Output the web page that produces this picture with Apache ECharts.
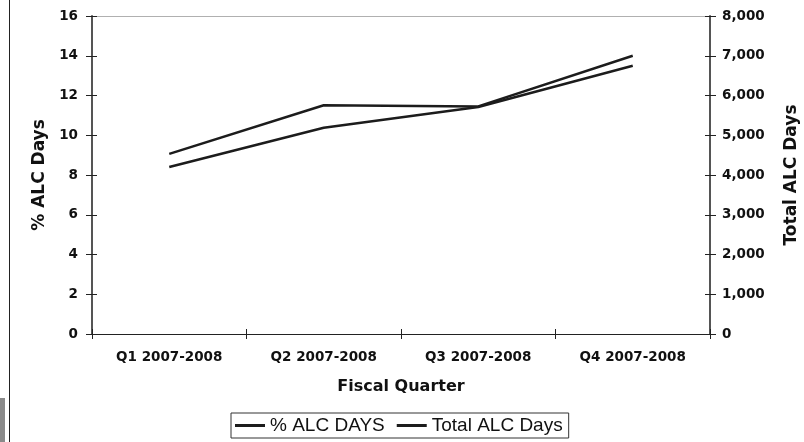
<!DOCTYPE html>
<html>
<head>
<meta charset="utf-8">
<script src="https://cdn.jsdelivr.net/npm/echarts@6/dist/echarts.min.js"></script>
<style>
  html, body { margin: 0; padding: 0; background: #fff; }
  #chart { width: 804px; height: 442px; }
</style>
</head>
<body>
<div id="chart"></div>
<script>
// Fiscal quarters and the two measures plotted against them
const quarters = ['Q1 2007-2008', 'Q2 2007-2008', 'Q3 2007-2008', 'Q4 2007-2008'];
const pctAlcDays = [9.06, 11.51, 11.45, 14.0];      // left axis, %
const totalAlcDays = [4200, 5190, 5710, 6750];     // right axis, days
const leftTicks = [0, 16, 2];                      // min, max, interval
const rightTicks = [0, 8000, 1000];

const chart = echarts.init(document.getElementById('chart'), null, { renderer: 'canvas', width: 804, height: 442 });
const boldFont = '"DejaVu Sans", Arial, sans-serif';
const plainFont = 'Arial, "Liberation Sans", sans-serif';
const lineColor = '#1c1c1c';

const labelStyle = { fontFamily: boldFont, fontSize: 13.5, fontWeight: 'bold', color: '#111' };

function tickOnlyYAxis(pos, t) {
  // companion axis that draws the inward half of each tick mark
  return {
    type: 'value', position: pos, min: t[0], max: t[1], interval: t[2],
    axisLabel: { show: false }, splitLine: { show: false },
    axisLine: { show: false },
    axisTick: { show: true, inside: true, length: 5, lineStyle: { color: '#222', width: 1 } }
  };
}

chart.setOption({
  animation: false,
  backgroundColor: '#fff',
  grid: { left: 92, right: 94, top: 16, bottom: 108, containLabel: false, outerBoundsMode: 'none' },
  legend: {
    left: 231, top: 413,
    padding: [3, 6, 3, 4],
    itemGap: 12,
    itemWidth: 30, itemHeight: 3,
    icon: 'rect',
    borderColor: '#333', borderWidth: 1,
    textStyle: { fontFamily: plainFont, fontSize: 19, color: '#111' },
    data: ['% ALC DAYS', 'Total ALC Days']
  },
  xAxis: [
    {
      type: 'category', data: quarters, position: 'bottom', boundaryGap: true,
      name: 'Fiscal Quarter', nameLocation: 'middle', nameGap: 45,
      nameTextStyle: { fontFamily: boldFont, fontSize: 16, fontWeight: 'bold', color: '#111' },
      axisLine: { onZero: false, lineStyle: { color: '#222', width: 1 } },
      axisTick: { show: true, length: 5, lineStyle: { color: '#222' } },
      axisLabel: Object.assign({ margin: 16 }, labelStyle)
    },
    {
      type: 'category', data: quarters, position: 'bottom', boundaryGap: true,
      axisLine: { show: false, onZero: false }, axisLabel: { show: false },
      axisTick: { show: true, inside: true, length: 5, lineStyle: { color: '#222' } }
    },
    {
      type: 'category', data: quarters, position: 'top', boundaryGap: true,
      axisLine: { show: true, onZero: false, lineStyle: { color: '#b0b0b0', width: 1 } },
      axisLabel: { show: false }, axisTick: { show: false }
    }
  ],
  yAxis: [
    {
      type: 'value', position: 'left', min: leftTicks[0], max: leftTicks[1], interval: leftTicks[2],
      name: '% ALC Days', nameLocation: 'middle', nameGap: 43.5, nameRotate: 90,
      nameTextStyle: { fontFamily: boldFont, fontSize: 17, fontWeight: 'bold', color: '#111' },
      axisLine: { show: true, onZero: false, lineStyle: { color: '#555', width: 2 } },
      axisTick: { show: true, length: 6, lineStyle: { color: '#222' } },
      axisLabel: Object.assign({ margin: 14 }, labelStyle),
      splitLine: { show: false }
    },
    {
      type: 'value', position: 'right', min: rightTicks[0], max: rightTicks[1], interval: rightTicks[2],
      name: 'Total ALC Days', nameLocation: 'middle', nameGap: 73, nameRotate: 90,
      nameTextStyle: { fontFamily: boldFont, fontSize: 17, fontWeight: 'bold', color: '#111' },
      axisLine: { show: true, onZero: false, lineStyle: { color: '#555', width: 2 } },
      axisTick: { show: true, length: 6, lineStyle: { color: '#222' } },
      axisLabel: Object.assign({
        margin: 12,
        formatter: v => v.toLocaleString('en-US')
      }, labelStyle),
      splitLine: { show: false }
    },
    tickOnlyYAxis('left', leftTicks),
    tickOnlyYAxis('right', rightTicks)
  ],
  graphic: [
    // outer frame edge at the far left
    { type: 'line', shape: { x1: 9.5, y1: 0, x2: 9.5, y2: 442 }, style: { stroke: '#222', lineWidth: 1 } },
    { type: 'rect', shape: { x: 0, y: 398, width: 5, height: 44 }, style: { fill: '#8a8a8a' } }
  ],
  series: [
    {
      name: '% ALC DAYS', type: 'line', xAxisIndex: 0, yAxisIndex: 0,
      data: pctAlcDays, symbol: 'none',
      lineStyle: { color: lineColor, width: 2.5 }, itemStyle: { color: lineColor }
    },
    {
      name: 'Total ALC Days', type: 'line', xAxisIndex: 0, yAxisIndex: 1,
      data: totalAlcDays, symbol: 'none',
      lineStyle: { color: lineColor, width: 2.5 }, itemStyle: { color: lineColor }
    }
  ]
});
</script>
</body>
</html>
